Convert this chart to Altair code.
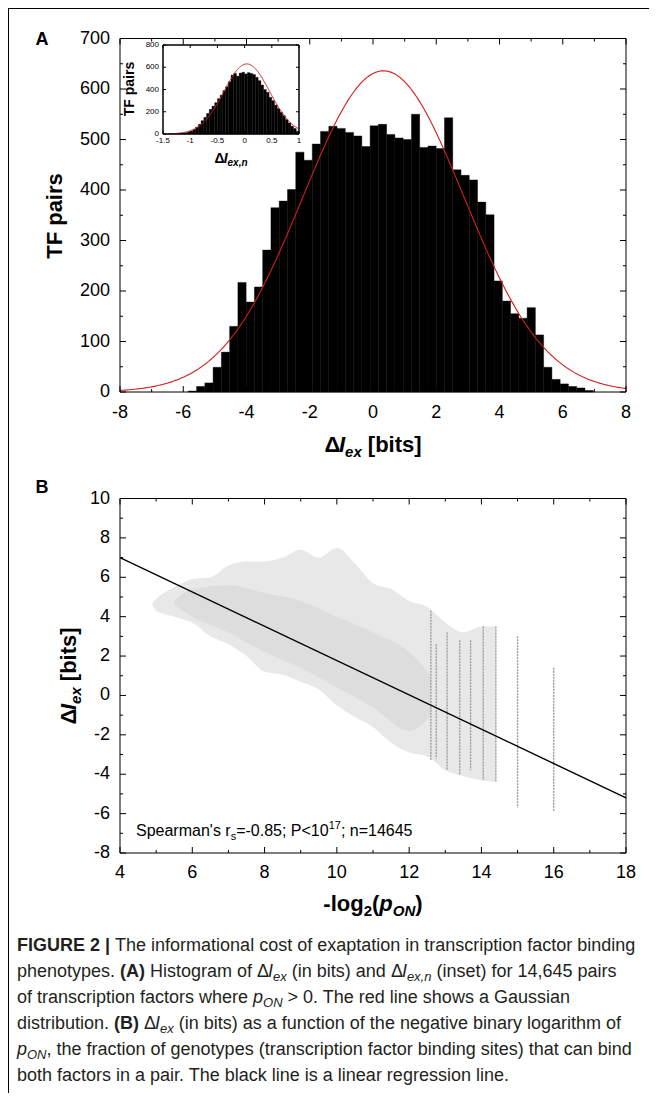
import altair as alt
import pandas as pd

# ================= data =================
# Panel A: histogram of Delta I_ex (bits)
histA_start = -5.84
histA_width = 0.2613
histA_counts = [2, 11, 18, 49, 79, 130, 217, 178, 208, 281, 365, 378, 401, 475,
                459, 491, 516, 526, 522, 514, 507, 486, 527, 530, 510, 503, 500,
                550, 484, 487, 482, 543, 440, 429, 420, 376, 351, 220, 180, 155,
                146, 167, 113, 49, 25, 16, 11, 8, 3]
gaussA_amp, gaussA_mu, gaussA_sd = 636, 0.33, 2.55

# Inset: histogram of Delta I_ex,n
histI_start = -1.40
histI_width = 0.05
histI_counts = [2, 3, 4, 5, 7, 9, 12, 18, 26, 40, 62, 88, 120, 150, 185, 222,
                250, 282, 318, 350, 390, 425, 470, 530, 545, 520, 548, 555, 540,
                552, 545, 535, 510, 480, 440, 400, 375, 330, 300, 260, 228, 195,
                165, 130, 100, 70, 50, 25]
gaussI_amp, gaussI_mu, gaussI_sd = 630, 0.04, 0.42

# Panel B: envelope of the scatter cloud, its dense core, discrete columns
cloud_x = [4.9, 5.0, 5.5, 6.0, 6.5, 7.0, 7.5, 8.0, 8.5, 9.0, 9.5, 10.0, 10.5,
           11.0, 11.5, 12.0, 12.5, 13.0, 13.5, 14.0, 14.4]
cloud_top = [4.7, 4.9, 5.5, 5.9, 6.0, 6.6, 6.8, 6.8, 7.0, 7.4, 7.0, 7.5, 6.7,
             5.7, 5.4, 4.8, 4.5, 3.7, 3.2, 3.5, 3.5]
cloud_bottom = [4.6, 4.3, 4.0, 3.7, 3.0, 2.6, 2.0, 1.2, 1.05, 0.7, 0.3, -0.5,
                -1.1, -1.6, -2.4, -2.9, -3.1, -3.8, -4.1, -4.3, -4.4]
core_x = [5.5, 6.0, 7.0, 8.0, 9.0, 10.0, 11.0, 12.0, 12.6]
core_top = [4.8, 5.4, 5.6, 5.2, 4.8, 4.0, 3.2, 2.2, 1.0]
core_bottom = [4.6, 4.0, 3.2, 2.2, 1.4, 0.4, -0.6, -1.8, -1.0]
col_x = [12.6, 12.75, 13.05, 13.4, 13.7, 14.05, 14.4, 15.0, 16.0]
col_top = [4.3, 2.6, 3.2, 2.8, 2.8, 3.5, 3.5, 3.0, 1.4]
col_bottom = [-3.3, -3.2, -3.8, -4.0, -3.8, -4.3, -4.4, -5.7, -5.9]
reg_x = [4, 18]
reg_y = [7.0, -5.2]

# ticks
A_xticks = [-8, -6, -4, -2, 0, 2, 4, 6, 8]
A_xminor = [-7, -5, -3, -1, 1, 3, 5, 7]
A_yticks = [0, 100, 200, 300, 400, 500, 600, 700]
A_yminor = [50, 150, 250, 350, 450, 550, 650]
I_xticks = [-1.5, -1, -0.5, 0, 0.5, 1]
I_xlabels = ["-1.5", "-1", "-0.5", "0", "0.5", "1"]
I_yticks = [0, 200, 400, 600, 800]
B_xticks = [4, 6, 8, 10, 12, 14, 16, 18]
B_xminor = [5, 7, 9, 11, 13, 15, 17]
B_yticks = [-8, -6, -4, -2, 0, 2, 4, 6, 8, 10]
B_yminor = [-7, -5, -3, -1, 1, 3, 5, 7, 9]

# ================= layout (page px -> chart px) =================
W, H = 641, 1085
def c(v):
    return v - 8

A_L, A_R, A_T, A_B = c(120), c(626), c(38.5), c(392)
I_L, I_R, I_T, I_B = c(163), c(299), c(45), c(134)
B_L, B_R, B_T, B_B = c(120), c(626), c(498.5), c(853)

FONT = "Liberation Sans, Arial, Helvetica, sans-serif"
RED = "#d0201e"

def sc(dom, rng):
    return alt.Scale(domain=dom, range=rng, nice=False, zero=False)

A_xs = sc([-8, 8], [A_L, A_R]); A_ys = sc([0, 700], [A_B, A_T])
I_xs = sc([-1.5, 1], [I_L, I_R]); I_ys = sc([0, 800], [I_B, I_T])
B_xs = sc([4, 18], [B_L, B_R]); B_ys = sc([-8, 10], [B_B, B_T])

ONE = pd.DataFrame({"k": [0]})

# ---------- text width helper (Arial / Liberation Sans metrics) ----------
REG, BOLD = {}, {}
for chars, w in [("'", 191), ("ijl", 222), ("|", 260), (" !,./:;I[]ft", 278),
                 ("()-r", 333), ("*", 389), ("Jcksvxyz", 500),
                 ("0123456789abdeghnopqu#$?_L", 556), ("+<=>", 584),
                 ("FTZ", 611), ("\u0394", 612), ("ABEKPSVXY&", 667), ("CDHNRUw", 722),
                 ("GOQ", 778), ("Mm", 833), ("%", 889), ("W", 944)]:
    for ch in chars:
        REG[ch] = w
for chars, w in [("'", 238), (" ,./:;Iijl!", 278), ("|", 280), ("()-[]ft", 333),
                 ("r", 389), ("z", 500), ("0123456789acesvxyJk", 556),
                 ("+<=>", 584), ("bdghnopquLFTZ", 611), ("\u0394", 660),
                 ("EPSVXY", 667), ("ABCDHKNRU", 722), ("GOQw", 778), ("M", 833),
                 ("m", 889), ("W", 944)]:
    for ch in chars:
        BOLD[ch] = w

def tw(s, size, bold):
    tab = BOLD if bold else REG
    return sum(tab.get(ch, 556) for ch in s) * size / 1000.0

def label(t, x, y, size, bold=False, italic=False, angle=0, align="left",
          baseline="alphabetic", color="black"):
    props = dict(align=align, baseline=baseline, fontSize=size, font=FONT,
                 color=color, fontWeight="bold" if bold else "normal",
                 fontStyle="italic" if italic else "normal")
    if angle:
        props["angle"] = angle
    return alt.Chart(ONE).mark_text(**props).encode(
        x=alt.value(x), y=alt.value(y), text=alt.value(t))

# seg = (text, size, bold, italic, shift)
def hrich(segs, x, y, anchor="left", color="black"):
    total = sum(tw(s[0], s[1], s[2]) for s in segs)
    if anchor == "center":
        x = x - total / 2.0
    out = []
    for t, size, b, i, d in segs:
        lead = len(t) - len(t.lstrip(" "))
        x += tw(" " * lead, size, b)
        core_t = t.lstrip(" ")
        if core_t.strip():
            out.append(label(core_t, x, y + d, size, b, i, color=color))
        x += tw(core_t, size, b)
    return out

def vrich(segs, xb, yc):
    total = sum(tw(s[0], s[1], s[2]) for s in segs)
    y = yc + total / 2.0
    out = []
    for t, size, b, i, d in segs:
        lead = len(t) - len(t.lstrip(" "))
        y -= tw(" " * lead, size, b)
        core_t = t.lstrip(" ")
        out.append(label(core_t, xb + d, y, size, b, i, angle=270))
        y -= tw(core_t, size, b)
    return out

def ticks(xs, ys, xt, yt, L, R, T, Bm, ln):
    out = []
    if xt:
        dfx = pd.DataFrame({"t": xt})
        for y0, y1 in [(Bm, Bm - ln), (T, T + ln)]:
            out.append(alt.Chart(dfx).mark_rule(color="black", strokeWidth=1).encode(
                x=alt.X("t:Q", scale=xs, axis=None), y=alt.value(y0), y2=alt.value(y1)))
    if yt:
        dfy = pd.DataFrame({"t": yt})
        for x0, x1 in [(L, L + ln), (R, R - ln)]:
            out.append(alt.Chart(dfy).mark_rule(color="black", strokeWidth=1).encode(
                y=alt.Y("t:Q", scale=ys, axis=None), x=alt.value(x0), x2=alt.value(x1)))
    return out

def frame(xs, ys, xd, yd, fill=None):
    kw = dict(stroke="black", strokeWidth=1)
    if fill:
        kw["fill"] = fill
    else:
        kw["filled"] = False
    return alt.Chart(ONE).mark_rect(**kw).encode(
        x=alt.XDatum(xd[0], scale=xs, axis=None), x2=alt.datum(xd[1]),
        y=alt.YDatum(yd[0], scale=ys, axis=None), y2=alt.datum(yd[1]))

def xlabels(vals, labs, xs, y, size):
    df = pd.DataFrame({"t": vals, "lab": labs})
    return alt.Chart(df).mark_text(fontSize=size, font=FONT, align="center",
                                   baseline="alphabetic", color="black").encode(
        x=alt.X("t:Q", scale=xs, axis=None), y=alt.value(y), text="lab:N")

def ylabels(vals, labs, ys, x, size):
    df = pd.DataFrame({"t": vals, "lab": labs})
    return alt.Chart(df).mark_text(fontSize=size, font=FONT, align="right",
                                   baseline="middle", color="black").encode(
        y=alt.Y("t:Q", scale=ys, axis=None), x=alt.value(x), text="lab:N")

def gauss_expr(a, m, s):
    return f"{a}*exp(-pow(datum.x-({m}),2)/(2*{s}*{s}))"

# ================= panel A =================
dfA = pd.DataFrame({
    "x0": [histA_start + i * histA_width for i in range(len(histA_counts))],
    "x1": [histA_start + (i + 1) * histA_width for i in range(len(histA_counts))],
    "n": histA_counts})
barsA = alt.Chart(dfA).mark_rect(color="black", stroke="black", strokeWidth=0.4).encode(
    x=alt.X("x0:Q", scale=A_xs, axis=None), x2="x1",
    y=alt.Y("n:Q", scale=A_ys, axis=None), y2=alt.datum(0))
gA = alt.Chart(alt.sequence(-8, 8.001, 0.04, as_="x")).transform_calculate(
    y=gauss_expr(gaussA_amp, gaussA_mu, gaussA_sd)).mark_line(
    color=RED, strokeWidth=1.1).encode(
    x=alt.X("x:Q", scale=A_xs, axis=None), y=alt.Y("y:Q", scale=A_ys, axis=None))

panelA = alt.layer(
    barsA, gA, frame(A_xs, A_ys, [-8, 8], [0, 700]),
    *ticks(A_xs, A_ys, A_xticks, A_yticks, A_L, A_R, A_T, A_B, 6),
    *ticks(A_xs, A_ys, A_xminor, A_yminor, A_L, A_R, A_T, A_B, 3),
    xlabels(A_xticks, [str(v) for v in A_xticks], A_xs, c(418), 18),
    ylabels(A_yticks, [str(v) for v in A_yticks], A_ys, c(110), 18),
)

# ================= inset =================
dfI = pd.DataFrame({
    "x0": [histI_start + i * histI_width for i in range(len(histI_counts))],
    "x1": [histI_start + (i + 1) * histI_width for i in range(len(histI_counts))],
    "n": histI_counts})
barsI = alt.Chart(dfI).mark_rect(color="black", stroke="black", strokeWidth=0.3).encode(
    x=alt.X("x0:Q", scale=I_xs, axis=None), x2="x1",
    y=alt.Y("n:Q", scale=I_ys, axis=None), y2=alt.datum(0))
gI = alt.Chart(alt.sequence(-1.5, 1.001, 0.01, as_="x")).transform_calculate(
    y=gauss_expr(gaussI_amp, gaussI_mu, gaussI_sd)).mark_line(
    color=RED, strokeWidth=1).encode(
    x=alt.X("x:Q", scale=I_xs, axis=None), y=alt.Y("y:Q", scale=I_ys, axis=None))

inset = alt.layer(
    frame(I_xs, I_ys, [-1.5, 1], [0, 800], fill="white"),
    barsI, gI, frame(I_xs, I_ys, [-1.5, 1], [0, 800]),
    *ticks(I_xs, I_ys, I_xticks, I_yticks, I_L, I_R, I_T, I_B, 3),
    xlabels(I_xticks, I_xlabels, I_xs, c(143), 8),
    ylabels(I_yticks, [str(v) for v in I_yticks], I_ys, c(159), 8),
)

# ================= panel B =================
dfC = pd.DataFrame({"x": cloud_x, "top": cloud_top, "bot": cloud_bottom})
dfK = pd.DataFrame({"x": core_x, "top": core_top, "bot": core_bottom})
dfCol = pd.DataFrame({"x": col_x, "top": col_top, "bot": col_bottom})
dfR = pd.DataFrame({"x": reg_x, "y": reg_y})

cloud = alt.Chart(dfC).mark_area(color="#e8e8e8", interpolate="monotone").encode(
    x=alt.X("x:Q", scale=B_xs, axis=None), y=alt.Y("top:Q", scale=B_ys, axis=None), y2="bot")
core = alt.Chart(dfK).mark_area(color="#dddddd", interpolate="monotone").encode(
    x=alt.X("x:Q", scale=B_xs, axis=None), y=alt.Y("top:Q", scale=B_ys, axis=None), y2="bot")
cols = alt.Chart(dfCol).mark_rule(color="#9c9c9c", strokeWidth=1.4, strokeDash=[2, 1]).encode(
    x=alt.X("x:Q", scale=B_xs, axis=None), y=alt.Y("top:Q", scale=B_ys, axis=None), y2="bot")
reg = alt.Chart(dfR).mark_line(color="black", strokeWidth=1.4).encode(
    x=alt.X("x:Q", scale=B_xs, axis=None), y=alt.Y("y:Q", scale=B_ys, axis=None))

panelB = alt.layer(
    cloud, core, cols, reg, frame(B_xs, B_ys, [4, 18], [-8, 10]),
    *ticks(B_xs, B_ys, B_xticks, B_yticks, B_L, B_R, B_T, B_B, 6),
    *ticks(B_xs, B_ys, B_xminor, B_yminor, B_L, B_R, B_T, B_B, 3),
    xlabels(B_xticks, [str(v) for v in B_xticks], B_xs, c(878), 18),
    ylabels(B_yticks, [str(v) for v in B_yticks], B_ys, c(110), 18),
)

# ================= texts =================
texts = []
# border
texts.append(alt.Chart(ONE).mark_rule(color="black", strokeWidth=1).encode(
    x=alt.value(0.5), y=alt.value(0), y2=alt.value(H)))
texts.append(alt.Chart(ONE).mark_rule(color="black", strokeWidth=1).encode(
    x=alt.value(0), x2=alt.value(W), y=alt.value(0.5)))
# panel letters
texts.append(label("A", c(42), c(45), 18, bold=True, align="center"))
texts.append(label("B", c(42), c(493), 18, bold=True, align="center"))
# panel A titles
texts += vrich([("TF pairs", 22, True, False, 0)], c(62), c(216))
texts += hrich([("\u0394", 22, True, False, 0), ("I", 22, True, True, 0),
                ("ex", 15, True, True, 5), (" [bits]", 22, True, False, 0)],
               c(373), c(452), anchor="center")
# inset titles
texts += vrich([("TF pairs", 14, True, False, 0)], c(134), c(89))
texts += hrich([("\u0394", 14, True, False, 0), ("I", 14, True, True, 0),
                ("ex,n", 10, True, True, 3)], c(231), c(163), anchor="center")
# panel B titles
texts += vrich([("\u0394", 22, True, False, 0), ("I", 22, True, True, 0),
                ("ex", 15, True, True, 5), (" [bits]", 22, True, False, 0)],
               c(76), c(676))
texts += hrich([("-log", 22, True, False, 0), ("2", 15, True, False, 5),
                ("(", 22, True, False, 0), ("p", 22, True, True, 0),
                ("ON", 15, True, True, 5), (")", 22, True, False, 0)],
               c(373), c(911), anchor="center")
# annotation
texts += hrich([("Spearman's r", 16, False, False, 0), ("s", 11, False, False, 4),
                ("=-0.85; P<10", 16, False, False, 0), ("17", 11, False, False, -7),
                ("; n=14645", 16, False, False, 0)], c(136), c(836))

# caption
cap_lines = [
    [("FIGURE 2 |", "b"), (" The informational cost of exaptation in transcription factor binding", "r")],
    [("phenotypes. ", "r"), ("(A)", "b"), (" Histogram of \u0394", "r"), ("I", "i"), ("ex", "s"),
     (" (in bits) and \u0394", "r"), ("I", "i"), ("ex,n", "s"), (" (inset) for 14,645 pairs", "r")],
    [("of transcription factors where ", "r"), ("p", "i"), ("ON", "s"),
     (" > 0. The red line shows a Gaussian", "r")],
    [("distribution. ", "r"), ("(B)", "b"), (" \u0394", "r"), ("I", "i"), ("ex", "s"),
     (" (in bits) as a function of the negative binary logarithm of", "r")],
    [("p", "i"), ("ON", "s"),
     (", the fraction of genotypes (transcription factor binding sites) that can bind", "r")],
    [("both factors in a pair. The black line is a linear regression line.", "r")],
]
STY = {"r": (18, False, False, 0), "b": (18, True, False, 0),
       "i": (18, False, True, 0), "s": (13, False, True, 4)}
CAP_COL = "#231f20"
for k, line in enumerate(cap_lines):
    segs = [(t,) + STY[s] for t, s in line]
    texts += hrich(segs, c(17), c(951 + 26 * k), color=CAP_COL)

chart = alt.layer(panelA, inset, panelB, *texts).resolve_scale(
    x="independent", y="independent").properties(
    width=W, height=H, autosize=alt.AutoSizeParams(type="none"), padding=0
).configure_view(stroke=None)

chart.save("out.html", embed_options={"renderer": "svg", "actions": False})
